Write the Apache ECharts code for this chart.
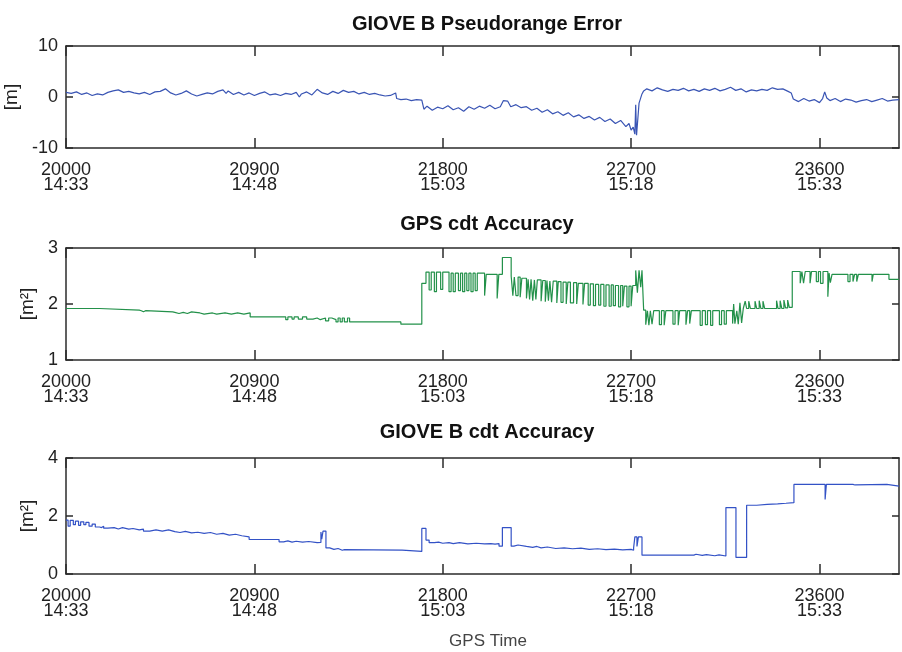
<!DOCTYPE html>
<html>
<head>
<meta charset="utf-8">
<script src="https://cdn.jsdelivr.net/npm/echarts@6/dist/echarts.min.js"></script>
<style>
html,body{margin:0;padding:0;background:#fff;}
#chart{width:902px;height:652px;}
</style>
</head>
<body>
<div id="chart"></div>
<script>
// ---------- data ----------
const titles = ['GIOVE B Pseudorange Error', 'GPS cdt Accuracy', 'GIOVE B cdt Accuracy'];
const yNames = ['[m]', '[m\u00B2]', '[m\u00B2]'];
const xAxisTitle = 'GPS Time';
const xTicks = [20000, 20900, 21800, 22700, 23600];
const xTimeLabels = ['14:33', '14:48', '15:03', '15:18', '15:33'];
const yTicks1 = [-10, 0, 10];
const yTicks2 = [1, 2, 3];
const yTicks3 = [0, 2, 4];

// GIOVE B pseudorange error [m]  ([GPS time, value])
const prError = [
[20000,0.9],[20025,0.7],[20050,1.0],[20075,0.5],[20100,0.8],[20125,0.3],[20150,0.6],[20175,0.4],
[20200,0.9],[20225,1.2],[20250,1.4],[20275,0.9],[20300,1.1],[20325,0.8],[20350,0.6],[20375,0.9],
[20400,0.5],[20425,1.0],[20450,1.1],[20475,1.6],[20500,0.8],[20525,0.4],[20550,0.7],[20575,1.2],
[20600,0.6],[20625,0.2],[20650,0.5],[20675,0.8],[20700,0.6],[20725,1.1],[20750,1.4],[20765,0.7],
[20775,1.2],[20800,0.5],[20825,0.9],[20850,0.4],[20875,0.8],[20900,0.3],[20925,0.7],[20950,1.0],
[20975,0.4],[21000,0.6],[21025,0.3],[21050,0.7],[21075,0.5],[21100,0.9],[21115,0.0],[21125,0.6],
[21150,1.0],[21175,0.4],[21200,1.5],[21225,0.8],[21250,0.5],[21275,1.1],[21300,0.7],[21325,1.3],
[21350,0.9],[21375,1.1],[21400,0.6],[21425,0.9],[21450,0.5],[21475,0.7],[21500,0.4],[21525,0.2],
[21550,0.3],[21575,0.8],[21580,-0.3],[21600,-0.5],[21625,-0.4],[21650,-0.7],[21675,-0.5],[21700,-0.6],
[21710,-2.4],[21725,-1.8],[21750,-2.6],[21775,-2.0],[21800,-2.3],[21825,-1.7],[21850,-2.5],[21875,-2.1],
[21900,-2.8],[21925,-1.9],[21950,-2.4],[21975,-1.8],[22000,-2.2],[22025,-1.6],[22050,-2.3],[22075,-1.9],
[22090,-0.7],[22110,-0.8],[22125,-1.9],[22150,-1.5],[22175,-2.1],[22200,-1.9],[22225,-2.6],[22250,-2.2],
[22275,-3.0],[22300,-2.5],[22325,-3.3],[22350,-2.9],[22375,-3.6],[22400,-3.1],[22425,-3.9],[22450,-3.5],
[22475,-4.2],[22500,-3.8],[22525,-4.5],[22550,-4.0],[22575,-4.8],[22600,-4.3],[22625,-5.2],[22650,-4.6],
[22675,-5.8],[22690,-5.2],[22700,-6.5],[22710,-5.9],[22718,-7.3],[22722,-1.5],[22726,-7.5],[22732,-7.4],
[22738,-1.2],[22745,-1.4],[22752,0.6],[22760,1.2],[22775,1.6],[22800,1.2],[22825,1.8],[22850,1.4],
[22875,1.1],[22900,1.5],[22925,1.3],[22950,1.7],[22975,1.2],[23000,1.5],[23025,1.1],[23050,1.6],
[23075,1.3],[23100,1.7],[23125,1.2],[23150,1.5],[23175,1.9],[23200,1.3],[23225,1.6],[23250,1.0],
[23275,1.4],[23300,1.2],[23325,1.5],[23350,1.3],[23375,1.8],[23400,1.5],[23425,1.6],[23450,1.1],
[23465,0.8],[23475,-0.4],[23500,-0.9],[23525,-0.3],[23550,-0.8],[23575,-0.5],[23600,-1.1],[23615,-0.3],
[23625,1.0],[23635,-0.2],[23650,-0.7],[23675,-0.3],[23700,-0.9],[23725,-0.4],[23750,-0.6],[23775,-1.0],
[23800,-0.7],[23825,-0.5],[23850,-0.9],[23875,-0.6],[23900,-0.3],[23925,-0.8],[23950,-0.6],[23980,-0.5]
];

// GPS cdt accuracy [m^2] (value held from each time until the next)
const gpsCdt = [
[20000,1.92],[20160,1.89],[20350,1.88],[20360,1.86],[20370,1.88],[20380,1.86],[20510,1.85],[20520,1.83],
[20540,1.85],[20560,1.83],[20580,1.86],[20600,1.84],[20640,1.82],[20660,1.84],[20700,1.82],[20720,1.84],
[20760,1.82],[20790,1.84],[20820,1.82],[20850,1.84],[20880,1.77],[21050,1.72],[21060,1.77],[21080,1.73],
[21090,1.77],[21110,1.73],[21130,1.77],[21150,1.73],[21180,1.75],[21200,1.72],[21215,1.75],[21240,1.70],
[21255,1.75],[21270,1.72],[21290,1.68],[21300,1.75],[21310,1.68],[21320,1.75],[21330,1.68],[21345,1.75],
[21355,1.68],[21370,1.68],[21600,1.64],[21700,2.37],[21720,2.57],[21735,2.25],[21745,2.57],[21760,2.22],
[21770,2.57],[21790,2.26],[21800,2.57],[21830,2.22],[21840,2.55],[21850,2.22],[21860,2.55],[21875,2.24],
[21885,2.55],[21895,2.22],[21905,2.55],[21915,2.24],[21925,2.55],[21935,2.22],[21945,2.55],[21955,2.24],
[21965,2.55],[22000,2.15],[22008,2.53],[22060,2.10],[22068,2.53],[22085,2.83],[22127,2.50],[22135,2.15],
[22142,2.48],[22150,2.15],[22160,2.48],[22170,2.12],[22178,2.46],[22200,2.10],[22208,2.44],[22215,2.08],
[22222,2.44],[22230,2.06],[22238,2.43],[22245,2.08],[22252,2.43],[22270,2.05],[22278,2.42],[22290,2.04],
[22298,2.42],[22305,2.06],[22312,2.41],[22320,2.03],[22328,2.41],[22345,2.02],[22352,2.40],[22365,2.03],
[22375,2.39],[22390,2.00],[22398,2.39],[22410,2.02],[22425,2.38],[22440,2.00],[22448,2.37],[22470,1.99],
[22478,2.37],[22495,1.98],[22505,2.36],[22520,1.97],[22530,2.35],[22545,1.98],[22555,2.35],[22570,1.96],
[22580,2.34],[22595,1.96],[22605,2.34],[22615,1.97],[22625,2.33],[22640,1.95],[22650,2.33],[22660,1.96],
[22668,2.32],[22680,1.95],[22690,2.32],[22700,1.96],[22708,2.33],[22722,2.60],[22730,2.20],[22738,2.60],
[22746,2.30],[22752,2.60],[22760,1.89],[22770,1.63],[22778,1.88],[22785,1.62],[22792,1.88],[22800,1.64],
[22808,1.88],[22835,1.63],[22845,1.88],[22858,1.62],[22866,1.88],[22900,1.64],[22910,1.88],[22925,1.62],
[22932,1.88],[22962,1.63],[22970,1.88],[22980,1.65],[22988,1.88],[23030,1.62],[23040,1.88],[23055,1.63],
[23065,1.88],[23080,1.62],[23090,1.88],[23122,1.63],[23132,1.88],[23145,1.64],[23155,1.88],[23185,1.65],
[23190,2.00],[23196,1.65],[23205,1.88],[23212,1.64],[23220,2.02],[23228,1.66],[23236,1.92],[23245,2.05],
[23252,1.92],[23262,2.05],[23270,1.92],[23292,2.05],[23300,1.92],[23312,2.06],[23320,1.92],[23330,2.05],
[23338,1.92],[23395,2.06],[23402,1.92],[23412,2.06],[23420,1.92],[23430,2.07],[23438,1.93],[23448,2.07],
[23456,1.94],[23470,2.58],[23508,2.37],[23516,2.58],[23524,2.37],[23532,2.58],[23555,2.37],[23562,2.58],
[23585,2.40],[23595,2.58],[23605,2.37],[23617,2.58],[23640,2.13],[23646,2.55],[23652,2.38],[23660,2.53],
[23736,2.40],[23746,2.53],[23760,2.40],[23768,2.53],[23778,2.40],[23786,2.53],[23851,2.40],[23857,2.53],
[23932,2.44],[23980,2.44]
];

// GIOVE B cdt accuracy [m^2] (value held from each time until the next)
const gioveCdt = [
[20000,1.86],[20010,1.65],[20020,1.85],[20035,1.70],[20045,1.82],[20060,1.68],[20070,1.80],[20085,1.70],
[20095,1.78],[20110,1.65],[20125,1.72],[20140,1.62],[20160,1.60],[20170,1.65],[20180,1.58],[20200,1.60],
[20230,1.55],[20250,1.60],[20270,1.55],[20300,1.57],[20320,1.52],[20350,1.55],[20370,1.48],[20400,1.52],
[20430,1.48],[20460,1.52],[20490,1.46],[20520,1.43],[20545,1.47],[20570,1.42],[20600,1.44],[20630,1.40],
[20660,1.43],[20690,1.37],[20720,1.40],[20750,1.34],[20780,1.37],[20810,1.32],[20840,1.28],[20875,1.19],
[21018,1.11],[21040,1.14],[21060,1.10],[21080,1.13],[21100,1.10],[21130,1.12],[21160,1.08],[21200,1.09],
[21218,1.45],[21222,1.20],[21228,1.48],[21242,0.90],[21260,0.85],[21280,0.88],[21300,0.82],[21320,0.84],
[21330,0.82],[21606,0.78],[21700,1.57],[21720,1.17],[21735,1.08],[21760,1.10],[21780,1.06],[21800,1.08],
[21830,1.05],[21850,1.08],[21880,1.04],[21920,1.06],[21960,1.04],[22000,1.05],[22030,1.03],[22050,1.05],
[22069,0.96],[22085,1.60],[22127,0.96],[22140,1.00],[22160,0.95],[22200,0.92],[22230,0.95],[22250,0.90],
[22270,0.93],[22300,0.88],[22340,0.90],[22380,0.87],[22420,0.89],[22460,0.85],[22500,0.87],[22540,0.84],
[22580,0.86],[22620,0.83],[22660,0.85],[22700,0.82],[22712,0.90],[22718,1.28],[22728,0.95],[22735,1.28],
[22752,0.65],[23000,0.68],[23010,0.64],[23040,0.67],[23060,0.63],[23100,0.66],[23120,0.62],[23153,2.29],
[23201,0.57],[23252,2.37],[23300,2.40],[23350,2.42],[23400,2.44],[23440,2.46],[23478,3.09],[23627,2.57],
[23633,3.09],[23760,3.07],[23770,3.09],[23922,3.03],[23980,3.03]
];

// ---------- chart ----------
const labelFont = "'Liberation Sans',Arial,sans-serif";
const frameColor = '#2b2b2b';
const grids = [
  {left: 66, right: 3, top: 46, height: 102, containLabel: false, outerBoundsMode: 'none'},
  {left: 66, right: 3, top: 248, height: 112, containLabel: false, outerBoundsMode: 'none'},
  {left: 66, right: 3, top: 458, height: 116, containLabel: false, outerBoundsMode: 'none'}
];
const yRanges = [yTicks1, yTicks2, yTicks3];
const nameGaps = [44, 28, 28];
const titleTops = [9, 209, 417];
const colors = ['#3a55b4', '#23914a', '#3352c6'];
const seriesData = [prError, gpsCdt, gioveCdt];
const steps = [false, 'end', 'end'];

const xAxes = [], yAxes = [], series = [], titleArr = [];
for (let i = 0; i < 3; i++) {
  const base = {
    type: 'value', gridIndex: i, min: xTicks[0], max: 23980,
    splitLine: {show: false},
    axisLine: {show: true, onZero: false, lineStyle: {color: frameColor, width: 1.5}},
  };
  xAxes.push(Object.assign({}, base, {
    position: 'bottom',
    axisTick: {show: true, inside: true, length: 10, customValues: xTicks, lineStyle: {color: frameColor, width: 1.5}},
    axisLabel: {show: true, customValues: xTicks, margin: 15, fontFamily: labelFont, fontSize: 18, lineHeight: 15,
      color: '#222', formatter: v => v + '\n' + xTimeLabels[xTicks.indexOf(v)]}
  }));
  xAxes.push(Object.assign({}, base, {
    position: 'top',
    axisTick: {show: true, inside: true, length: 10, customValues: xTicks, lineStyle: {color: frameColor, width: 1.5}},
    axisLabel: {show: false}
  }));
  const yt = yRanges[i];
  const ybase = {
    type: 'value', gridIndex: i, min: yt[0], max: yt[yt.length - 1], interval: yt[1] - yt[0],
    splitLine: {show: false},
    axisLine: {show: true, onZero: false, lineStyle: {color: frameColor, width: 1.5}},
    axisTick: {show: true, inside: true, length: 7, lineStyle: {color: frameColor, width: 1.5}}
  };
  yAxes.push(Object.assign({}, ybase, {
    position: 'left',
    name: yNames[i], nameLocation: 'middle', nameRotate: 90, nameGap: nameGaps[i],
    nameTextStyle: {fontFamily: labelFont, fontSize: 19, color: '#222'},
    axisLabel: {show: true, margin: 8, fontFamily: labelFont, fontSize: 18, color: '#222'}
  }));
  yAxes.push(Object.assign({}, ybase, {position: 'right', axisLabel: {show: false}}));
  series.push({
    type: 'line', xAxisIndex: 2 * i, yAxisIndex: 2 * i, data: seriesData[i],
    step: steps[i], showSymbol: false, symbol: 'none', animation: false,
    lineStyle: {color: colors[i], width: 1.2}, itemStyle: {color: colors[i]}
  });
  titleArr.push({
    text: titles[i], left: 482, top: titleTops[i], textAlign: 'center',
    textStyle: {fontFamily: labelFont, fontWeight: 'bold', fontSize: 20, color: '#111'}
  });
}
titleArr.push({
  text: xAxisTitle, left: 483, top: 628, textAlign: 'center',
  textStyle: {fontFamily: labelFont, fontWeight: 'normal', fontSize: 17, color: '#444'}
});

const chart = echarts.init(document.getElementById('chart'), null, {renderer: 'canvas'});
chart.setOption({
  backgroundColor: '#fff',
  animation: false,
  title: titleArr,
  grid: grids,
  xAxis: xAxes,
  yAxis: yAxes,
  series: series
});
</script>
</body>
</html>
